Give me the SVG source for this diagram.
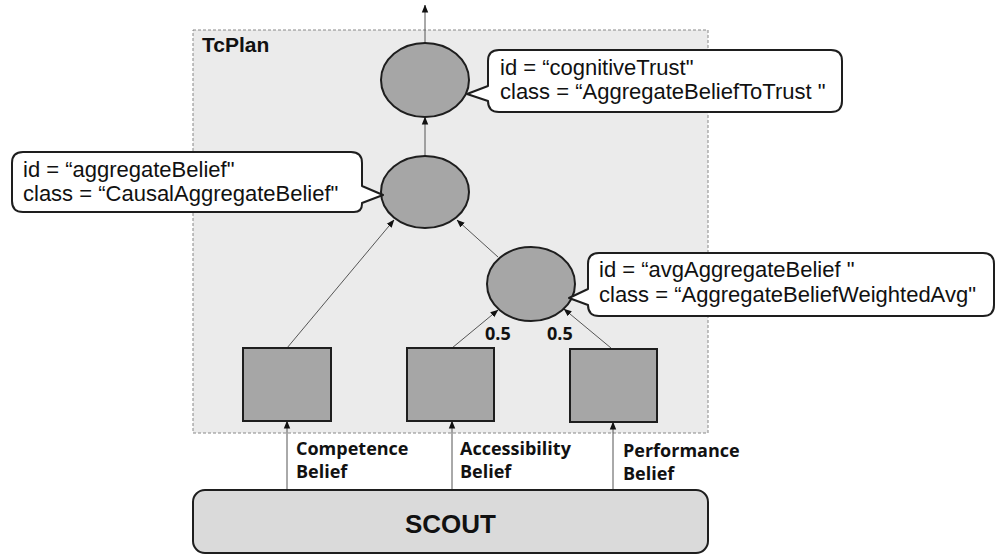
<svg xmlns="http://www.w3.org/2000/svg" width="996" height="556" viewBox="0 0 996 556">
<defs>
<style>
.node{fill:#a6a6a6;stroke:#1e1e1e;stroke-width:2}
.call{fill:#fff;stroke:#1e1e1e;stroke-width:2;stroke-linejoin:round}
.ct{font-family:"Liberation Sans",Arial,sans-serif;font-size:22px;fill:#111}
.lbl{font-family:"Open Sans","Liberation Sans",sans-serif;font-weight:700;font-size:18px;fill:#111}
.edge{stroke:#555;stroke-width:1;fill:none;marker-end:url(#ah)}
</style>
<marker id="ah" viewBox="0 0 8 8" refX="7.5" refY="4" markerWidth="8" markerHeight="8" markerUnits="userSpaceOnUse" orient="auto">
<path d="M0,0.8 L8,4 L0,7.2 Z" fill="#111"/>
</marker>
</defs>
<rect width="996" height="556" fill="#fff"/>
<g id="tcplan">
<rect x="193" y="30" width="515" height="403" fill="#ebebeb" stroke="#888" stroke-width="1" stroke-dasharray="3 2"/>
<text x="202" y="52" font-family="Liberation Sans,Arial,sans-serif" font-weight="700" font-size="21" fill="#111">TcPlan</text>
</g>
<g id="connectors">
<line class="edge" x1="425" y1="43" x2="425" y2="5"/>
<line class="edge" x1="425" y1="156" x2="425" y2="117"/>
<line class="edge" x1="287" y1="348" x2="394" y2="220"/>
<line class="edge" x1="498" y1="257" x2="457" y2="220"/>
<line class="edge" x1="452" y1="348" x2="498" y2="310"/>
<line class="edge" x1="611" y1="348" x2="564" y2="309"/>
<line class="edge" x1="287" y1="490" x2="287" y2="421"/>
<line class="edge" x1="452" y1="490" x2="452" y2="421"/>
<line class="edge" x1="613" y1="490" x2="613" y2="422"/>
<text class="lbl" x="485" y="340">0.5</text>
<text class="lbl" x="547" y="340">0.5</text>
<text class="lbl" x="296" y="455">Competence</text>
<text class="lbl" x="296" y="478">Belief</text>
<text class="lbl" x="460" y="455">Accessibility</text>
<text class="lbl" x="460" y="478">Belief</text>
<text class="lbl" x="623" y="457">Performance</text>
<text class="lbl" x="623" y="480">Belief</text>
</g>
<g id="cognitiveTrust">
<ellipse class="node" cx="425" cy="80" rx="44" ry="37"/>
<path class="call" d="M499,50 H831 Q842,50 842,61 V101 Q842,112 831,112 H499 Q488,112 488,101 L467,94 L488,86 V61 Q488,50 499,50 Z"/>
<text class="ct" x="500" y="75">id = “cognitiveTrust"</text>
<text class="ct" x="500" y="99">class = “AggregateBeliefToTrust "</text>
</g>
<g id="aggregateBelief">
<ellipse class="node" cx="425" cy="192" rx="44" ry="36"/>
<path class="call" d="M23,152 H351 Q362,152 362,163 V186 L383,195 L362,203 V204 Q362,212 354,212 H23 Q12,212 12,201 V163 Q12,152 23,152 Z"/>
<text class="ct" x="23" y="177">id = “aggregateBelief"</text>
<text class="ct" x="23" y="201">class = “CausalAggregateBelief"</text>
</g>
<g id="avgAggregateBelief">
<ellipse class="node" cx="531" cy="284" rx="44" ry="37"/>
<path class="call" d="M599,253 H983 Q994,253 994,264 V305 Q994,316 983,316 H599 Q588,316 588,305 L569,298 L588,289 V264 Q588,253 599,253 Z"/>
<text class="ct" x="599" y="277">id = “avgAggregateBelief "</text>
<text class="ct" x="599" y="302">class = “AggregateBeliefWeightedAvg"</text>
</g>
<g id="competence">
<rect class="node" x="243" y="348" width="88" height="73"/>
</g>
<g id="accessibility">
<rect class="node" x="407" y="348" width="87" height="73"/>
</g>
<g id="performance">
<rect class="node" x="570" y="349" width="87" height="73"/>
</g>
<g id="scout">
<rect x="193" y="490" width="515" height="63" rx="12" fill="#dadada" stroke="#1e1e1e" stroke-width="2"/>
<text x="450.5" y="533" text-anchor="middle" font-family="Liberation Sans,Arial,sans-serif" font-weight="700" font-size="26" fill="#111">SCOUT</text>
</g>
</svg>
